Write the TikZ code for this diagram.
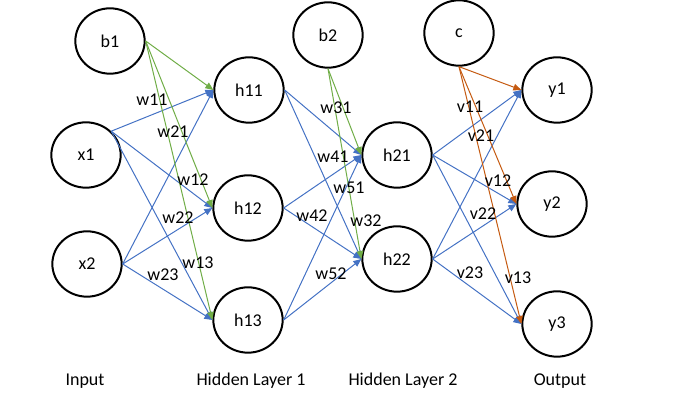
\documentclass[tikz,border=0pt]{standalone}
\usepackage{fontspec}
\setmainfont{Carlito}
\usetikzlibrary{shapes.geometric,arrows.meta}

\definecolor{wblue}{HTML}{4472C4}
\definecolor{wgreen}{HTML}{70AD47}
\definecolor{worange}{HTML}{C55A11}

\begin{document}
\begin{tikzpicture}[x=0.75pt,y=-0.75pt]
	\tikzset{neuron/.style = {draw, ellipse, line width=1.5pt, inner sep=0pt,
	minimum width=52pt, minimum height=49pt, font=\fontsize{13.5}{16}\selectfont}}
	\tikzset{conn/.style = {line width=0.75pt, -{Triangle[length=6pt,width=5pt]}}}
	\tikzset{wlabel/.style = {inner sep=1pt, font=\fontsize{13.5}{16}\selectfont}}
	
	\useasboundingbox (0,0) rectangle (675,416);
	
	% input layer
	\node[neuron] (b1) at (110, 41) {b1};
	\node[neuron] (x1) at (86, 155) {x1};
	\node[neuron] (x2) at (87, 264) {x2};
	
	% hidden layer 1
	\node[neuron] (h11) at (249, 90) {h11};
	\node[neuron] (h12) at (248, 208) {h12};
	\node[neuron] (h13) at (248, 320) {h13};
	
	% hidden layer 2
	\node[neuron] (b2) at (328, 35) {b2};
	\node[neuron] (h21) at (397, 155) {h21};
	\node[neuron] (h22) at (397, 259) {h22};
	
	% output layer
	\node[neuron] (c) at (459, 33) {c};
	\node[neuron] (y1) at (557, 90) {y1};
	\node[neuron] (y2) at (552, 204) {y2};
	\node[neuron] (y3) at (557, 324) {y3};
	
	% connections
	\foreach \t in {h11, h12, h13} {
		\draw[conn, wblue] (x1.north east) -- (\t.west);
		\draw[conn, wblue] (x2.east) -- (\t.west);
	}
	\foreach \t in {h11, h12, h13}
		\draw[conn, wgreen] (b1.east) -- (\t.west);
	\foreach \s in {h11, h12, h13} {
		\draw[conn, wblue] (\s.east) -- (h21.west);
		\draw[conn, wblue] (\s.east) -- (h22.west);
	}
	\foreach \t in {h21, h22}
		\draw[conn, wgreen] (b2.south) -- (\t.west);
	\foreach \t in {y1, y2, y3} {
		\draw[conn, wblue] (h21.east) -- (\t.west);
		\draw[conn, wblue] (h22.east) -- (\t.west);
	}
	\foreach \t in {y1, y2, y3}
		\draw[conn, worange] (c.south) -- (\t.west);
	
	% weights
	\node[wlabel] (lw11) at (152, 100) {w11};
	\node[wlabel] (lw21) at (173, 132) {w21};
	\node[wlabel] (lw12) at (193, 180) {w12};
	\node[wlabel] (lw22) at (178, 218) {w22};
	\node[wlabel] (lw13) at (198, 263) {w13};
	\node[wlabel] (lw23) at (163, 275) {w23};
	\node[wlabel] (lw31) at (336, 108) {w31};
	\node[wlabel] (lw41) at (333, 157) {w41};
	\node[wlabel] (lw51) at (349, 188) {w51};
	\node[wlabel] (lw42) at (312, 216) {w42};
	\node[wlabel] (lw32) at (366, 221) {w32};
	\node[wlabel] (lw52) at (331, 274) {w52};
	\node[wlabel] (lv11) at (470, 107) {v11};
	\node[wlabel] (lv21) at (481, 136) {v21};
	\node[wlabel] (lv12) at (498, 181) {v12};
	\node[wlabel] (lv22) at (483, 214) {v22};
	\node[wlabel] (lv23) at (470, 273) {v23};
	\node[wlabel] (lv13) at (518, 278) {v13};
	
	% layer names
	\node[wlabel] (input) at (85, 381) {Input};
	\node[wlabel] (hidden1) at (251, 381) {Hidden Layer 1};
	\node[wlabel] (hidden2) at (403, 381) {Hidden Layer 2};
	\node[wlabel] (output) at (560, 381) {Output};
\end{tikzpicture}
\end{document}
